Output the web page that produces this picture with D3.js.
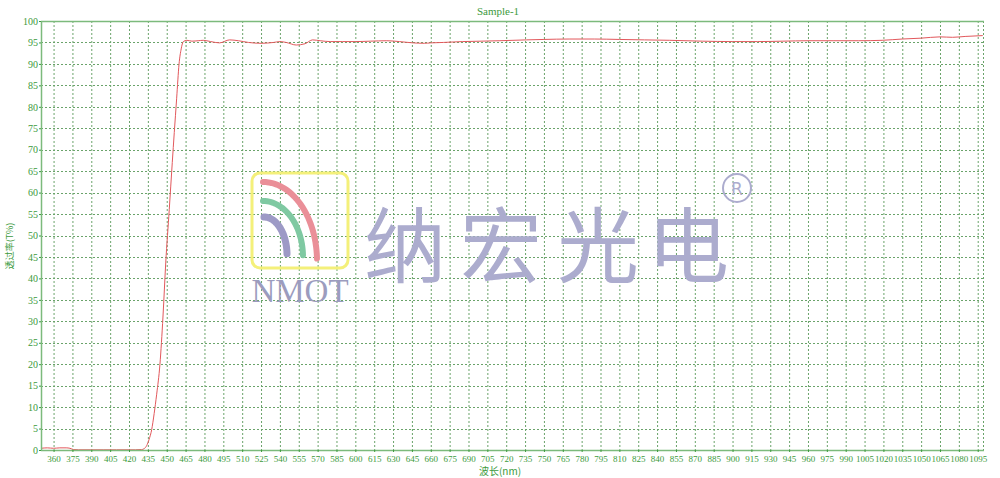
<!DOCTYPE html>
<html><head><meta charset="utf-8">
<script src="https://cdn.jsdelivr.net/npm/d3@7/dist/d3.min.js"></script>
<style>body{margin:0;background:#fff}svg{display:block}</style>
</head><body>
<svg id="c" width="1000" height="478"></svg>
<script>
const title = "Sample-1";
const xLabel = "波长(nm)";
const yLabel = "透过率(T%)";
const xTicks = d3.range(360, 1096, 15);
const yTicks = d3.range(0, 101, 5);
const wavelength = [350,355,360,365,370,373,376,380,390,400,410,420,425,430,432,434,436,438,440,442,444.6,447,449.2,452,454.4,456,457.9,459.8,461.5,463.2,466,470,475,479,485,492,500,507,515,525,535,540,545,553,560,566,572,580,590,600,612,625,635,646,655,660,670,685,700,715,736,750,770,790,810,830,850,876,900,920,940,960,980,1000,1019,1035,1050,1065,1075,1085,1099];
const transmittance = [0.4,0.5,0.4,0.5,0.5,0.4,0.1,0.05,0.05,0.05,0.05,0.05,0.05,0.1,0.3,1.0,2.5,4.7,8.5,13,20,31,43.6,56,67,74,82,90,93.5,95.2,95.5,95.3,95.4,95.5,95.2,94.9,95.6,95.4,95.0,94.8,95.0,95.2,95.0,94.4,94.7,95.6,95.4,95.2,95.2,95.2,95.3,95.4,95.2,94.9,94.8,94.9,95.0,95.2,95.3,95.4,95.6,95.7,95.8,95.8,95.7,95.6,95.5,95.3,95.2,95.2,95.3,95.4,95.4,95.4,95.5,95.8,96.0,96.3,96.2,96.4,96.6];
const brandChars = ["纳","宏","光","电"];
const logoText = "NMOT";

const svg = d3.select("#c");
const m = {l:41, t:21, r:16, b:28};
const W = 1000, H = 478;
const x = d3.scaleLinear().domain([350,1100]).range([m.l, W-m.r]);
const y = d3.scaleLinear().domain([0,100]).range([H-m.b, m.t]);
const green = "#3c9a3c";
const gridC = "#6aa36a";
const serif = "'Liberation Serif','DejaVu Serif',serif";

// grid
const g = svg.append("g");
g.selectAll("line.v").data(xTicks).join("line")
  .attr("x1", d=>x(d)+0.5).attr("x2", d=>x(d)+0.5)
  .attr("y1", y(100)).attr("y2", y(0))
  .attr("stroke", gridC).attr("stroke-width",1).attr("stroke-dasharray","2,2");
g.selectAll("line.h").data(yTicks.filter(d=>d>0&&d<100)).join("line")
  .attr("x1", x(350)).attr("x2", x(1100))
  .attr("y1", d=>Math.round(y(d))+0.5).attr("y2", d=>Math.round(y(d))+0.5)
  .attr("stroke", gridC).attr("stroke-width",1).attr("stroke-dasharray","2,2");
g.append("line").attr("x1", x(1100)-0.5).attr("x2", x(1100)-0.5).attr("y1", y(100)).attr("y2", y(0))
  .attr("stroke", gridC).attr("stroke-dasharray","2,2");

// watermark
const wm = svg.append("g");
wm.append("rect").attr("x",252).attr("y",173).attr("width",96).attr("height",95).attr("rx",8)
  .attr("fill","none").attr("stroke","#f4f07a").attr("stroke-width",3);
function arc(cx, cy, rx, ry, color, w){
  const p = d3.path();
  const n = 30;
  for(let i=0;i<=n;i++){
    const a = -Math.PI/2 + (Math.PI/2)*i/n*0.98;
    const px = cx + rx*Math.cos(a), py = cy + ry*Math.sin(a);
    if(i===0) p.moveTo(px,py); else p.lineTo(px,py);
  }
  wm.append("path").attr("d",p.toString()).attr("fill","none").attr("stroke",color)
    .attr("stroke-width",w).attr("stroke-linecap","round");
}
arc(263, 261, 54, 79, "#ea8f98", 6);
arc(263, 257, 40, 56, "#7fc9a2", 6);
arc(264, 255, 23, 38, "#9d9ac6", 7);
wm.append("text").attr("x",300).attr("y",302).attr("text-anchor","middle")
  .attr("font-family",serif).attr("font-size",33).attr("fill","#9c9cbe").text(logoText);
const brandX = [364, 460, 557, 647];
wm.selectAll("text.brand").data(brandChars).join("text").attr("class","brand")
  .attr("x",(d,i)=>brandX[i]).attr("y",276).attr("font-family","'Noto Sans CJK SC'")
  .attr("font-weight",400).attr("font-size",82).attr("fill","#acacce").text(d=>d);
wm.append("circle").attr("cx",737).attr("cy",188).attr("r",14).attr("fill","none")
  .attr("stroke","#acacce").attr("stroke-width",2);
wm.append("text").attr("x",737).attr("y",195).attr("text-anchor","middle")
  .attr("font-family","'DejaVu Sans',sans-serif").attr("font-size",17).attr("fill","#acacce").text("R");

// curve
const data = wavelength.map((w,i)=>({w, t:transmittance[i]}));
svg.append("path").datum(data)
  .attr("d", d3.line().x(d=>x(d.w)).y(d=>y(d.t)).curve(d3.curveMonotoneX))
  .attr("fill","none").attr("stroke","#e2585c").attr("stroke-width",1);

// borders
svg.append("line").attr("x1",x(350)).attr("x2",x(1100)).attr("y1",y(100)+0.5).attr("y2",y(100)+0.5)
  .attr("stroke","#7cba7c").attr("stroke-width",1.5);
svg.append("line").attr("x1",x(350)+0.5).attr("x2",x(350)+0.5).attr("y1",y(100)).attr("y2",y(0))
  .attr("stroke","#7cba7c").attr("stroke-width",1.5);
svg.append("line").attr("x1",x(350)).attr("x2",x(1100)).attr("y1",y(0)+0.5).attr("y2",y(0)+0.5)
  .attr("stroke","#7cba7c").attr("stroke-width",1.5);

// axes
const xa = svg.append("g").attr("transform",`translate(0,${y(0)})`)
  .call(d3.axisBottom(x).tickValues(xTicks).tickSize(2).tickFormat(d3.format("d")));
const ya = svg.append("g").attr("transform",`translate(${x(350)},0)`)
  .call(d3.axisLeft(y).tickValues(yTicks).tickSize(2).tickFormat(d3.format("d")));
[xa,ya].forEach(a=>{
  a.select(".domain").remove();
  a.selectAll(".tick line").attr("stroke",green);
  a.selectAll("text").attr("fill",green).attr("font-family",serif).attr("font-size",10);
});
xa.selectAll("text").attr("font-size",9).attr("dy","0.8em").attr("y",5);
ya.selectAll("text").attr("x",-3);

svg.append("text").attr("x",498).attr("y",15).attr("text-anchor","middle")
  .attr("font-family",serif).attr("font-size",11).attr("fill",green).text(title);
svg.append("text").attr("x",500).attr("y",475).attr("text-anchor","middle")
  .attr("font-family","'Noto Sans CJK SC'").attr("font-size",10).attr("fill",green).text(xLabel);
svg.append("text").attr("transform","translate(13,246) rotate(-90)").attr("text-anchor","middle")
  .attr("font-family","'Noto Sans CJK SC'").attr("font-size",9).attr("fill",green).text(yLabel);
</script>
</body></html>
